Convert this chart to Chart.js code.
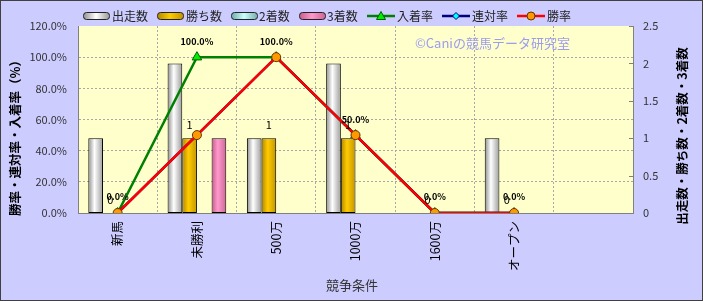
<!DOCTYPE html>
<html><head><meta charset="utf-8">
<script src="https://cdn.jsdelivr.net/npm/chart.js@4"></script>
<style>html,body{margin:0;padding:0;background:#fff}canvas{display:block}</style>
</head><body>
<canvas id="c" width="703" height="301"></canvas>
<script>
// ---- data ----
const categories = ['新馬','未勝利','500万','1000万','1600万','オープン',''];
const starts  = [1,2,1,2,0,1];          // 出走数
const wins    = [0,1,1,1,0,0];          // 勝ち数
const seconds = [0,0,0,0,0,0];          // 2着数
const thirds  = [0,1,0,0,0,0];          // 3着数
const placeRate    = [0,100,100,50,0,0]; // 入着率 (%)
const quinellaRate = [0,50,100,50,0,0];  // 連対率 (%)
const winRate      = [0,50,100,50,0,0];  // 勝率 (%)
const leftTicks  = [0,20,40,60,80,100,120];
const rightTicks = [0,0.5,1,1.5,2,2.5];
const seriesNames = ['出走数','勝ち数','2着数','3着数','入着率','連対率','勝率'];

const JP = "'Noto Sans CJK JP', 'Noto Sans', sans-serif";
const CAT_PCT = 0.74;
const cols = {
  white: ['#8c8c8c','#ffffff','#9c9c9c'],
  gold:  ['#b08400','#ffcc00','#c29400'],
  cyan:  ['#6aa8a8','#ccffff','#78b0b0'],
  pink:  ['#c45a8e','#ff99cc','#cc6699']
};
function barFill(k, c){
  return ctx => {
    const ch = ctx.chart, xs = ch.scales && ch.scales.x;
    if (!xs || ctx.dataIndex == null || !isFinite(xs.width) || xs.width <= 0) return c[1];
    const cw = xs.width / categories.length, bw = cw * CAT_PCT / 4;
    const cx = xs.getPixelForValue(ctx.dataIndex) + (k - 1.5) * bw;
    const g = ch.ctx.createLinearGradient(cx - bw/2, 0, cx + bw/2, 0);
    g.addColorStop(0, c[0]); g.addColorStop(0.42, c[1]); g.addColorStop(1, c[2]);
    return g;
  };
}
function barDs(label, data, k, c){
  return {type:'bar', label, data, yAxisID:'y1', order:10,
    backgroundColor: barFill(k, c), borderColor:'#000',
    borderWidth: ctx => (ctx.raw ? 1 : 0), borderSkipped:false,
    categoryPercentage: CAT_PCT, barPercentage: 1};
}
function lineDs(label, data, color, style, r, bg, bc, order){
  return {type:'line', label, data, yAxisID:'y', order,
    borderColor: color, borderWidth: 2.5, tension: 0,
    pointStyle: style, pointRadius: r, pointHoverRadius: r,
    pointBackgroundColor: bg, pointBorderColor: bc, pointBorderWidth: 1};
}

const legendItems = [
  {t:'bar', c:cols.white, bx:83, tx:112},
  {t:'bar', c:cols.gold, bx:157, tx:186},
  {t:'bar', c:cols.cyan, bx:231, tx:259},
  {t:'bar', c:cols.pink, bx:299, tx:327},
  {t:'line', color:'#008000', style:'triangle', bg:'#00ee00', bc:'#006000', bx:367, tx:397},
  {t:'line', color:'#000080', style:'diamond', bg:'#00ffff', bc:'#000080', bx:442, tx:472},
  {t:'line', color:'#ff0000', style:'circle', bg:'#ff9900', bc:'#663300', bx:517, tx:547}
];

function marker(ctx, style, x, y, bg, bc){
  ctx.save(); ctx.fillStyle = bg; ctx.strokeStyle = bc; ctx.lineWidth = 1; ctx.beginPath();
  if (style === 'triangle') { ctx.moveTo(x, y-4.5); ctx.lineTo(x+4.5, y+3.5); ctx.lineTo(x-4.5, y+3.5); ctx.closePath(); }
  else if (style === 'diamond') { ctx.moveTo(x, y-3.5); ctx.lineTo(x+3.5, y); ctx.lineTo(x, y+3.5); ctx.lineTo(x-3.5, y); ctx.closePath(); }
  else { ctx.arc(x, y, 4, 0, Math.PI*2); }
  ctx.fill(); ctx.stroke(); ctx.restore();
}

const decor = {
  id:'decor',
  beforeDraw(chart){
    const {ctx, chartArea:a} = chart;
    ctx.save();
    ctx.fillStyle = '#ccccff'; ctx.fillRect(0,0,chart.width,chart.height);
    ctx.fillStyle = '#ffffcc'; ctx.fillRect(a.left, a.top, a.right-a.left, a.bottom-a.top);
    ctx.restore();
  },
  beforeDatasetsDraw(chart){
    const ctx = chart.ctx;
    ctx.save();
    ctx.fillStyle = '#9c9cf0'; ctx.font = '13px ' + JP; ctx.textAlign = 'left'; ctx.textBaseline = 'middle';
    ctx.fillText('©Caniの競馬データ研究室', 415, 43);
    ctx.restore();
  },
  afterDatasetsDraw(chart){
    const ctx = chart.ctx;
    ctx.save(); ctx.fillStyle = '#000'; ctx.textAlign = 'center'; ctx.textBaseline = 'middle';
    const mb = chart.getDatasetMeta(1);
    ctx.font = '11px ' + JP;
    mb.data.forEach((el, i) => { if (wins[i] != null) ctx.fillText(String(wins[i]), el.x, el.y - 13); });
    const mp = chart.getDatasetMeta(4);
    ctx.font = 'bold 9px ' + JP;
    mp.data.forEach((el, i) => { if (placeRate[i] != null) ctx.fillText(placeRate[i].toFixed(1) + '%', el.x, el.y - 16); });
    ctx.restore();
  },
  afterDraw(chart){
    const ctx = chart.ctx, a = chart.chartArea;
    ctx.save();
    // right axis small ticks (inside)
    const y1 = chart.scales.y1;
    ctx.strokeStyle = '#808080'; ctx.lineWidth = 1;
    rightTicks.forEach(v => { const y = Math.round(y1.getPixelForValue(v)) + 0.5; ctx.beginPath(); ctx.moveTo(a.right-4, y); ctx.lineTo(a.right, y); ctx.stroke(); });
    // axis titles
    ctx.fillStyle = '#000'; ctx.textAlign = 'center'; ctx.textBaseline = 'middle';
    ctx.font = 'bold 12.5px ' + JP;
    ctx.save(); ctx.translate(15, 135); ctx.rotate(-Math.PI/2); ctx.fillText('勝率・連対率・入着率（%）', 0, 0); ctx.restore();
    ctx.save(); ctx.translate(682, 136); ctx.rotate(-Math.PI/2); ctx.fillText('出走数・勝ち数・2着数・3着数', 0, 0); ctx.restore();
    ctx.fillStyle = '#333'; ctx.font = '13px ' + JP;
    ctx.fillText('競争条件', 352, 285);
    // legend
    ctx.font = '12px ' + JP; ctx.textAlign = 'left';
    legendItems.forEach((it, i) => {
      const cy = 16;
      if (it.t === 'bar') {
        const g = ctx.createLinearGradient(it.bx, 0, it.bx+26, 0);
        g.addColorStop(0, it.c[0]); g.addColorStop(0.5, it.c[1]); g.addColorStop(1, it.c[2]);
        ctx.fillStyle = g; ctx.strokeStyle = '#222'; ctx.lineWidth = 1;
        ctx.beginPath(); ctx.roundRect(it.bx+0.5, cy-3.5, 26, 7, 3); ctx.fill(); ctx.stroke();
      } else {
        ctx.strokeStyle = it.color; ctx.lineWidth = 2.5;
        ctx.beginPath(); ctx.moveTo(it.bx, cy); ctx.lineTo(it.bx+28, cy); ctx.stroke();
        marker(ctx, it.style, it.bx+14, cy, it.bg, it.bc);
      }
      ctx.fillStyle = '#222';
      ctx.fillText(seriesNames[i], it.tx, cy);
    });
    // outer border
    ctx.strokeStyle = '#404040'; ctx.lineWidth = 1;
    ctx.strokeRect(0.5, 0.5, chart.width-1, chart.height-1);
    ctx.restore();
  }
};

new Chart(document.getElementById('c'), {
  data: {
    labels: categories,
    datasets: [
      barDs(seriesNames[0], starts, 0, cols.white),
      barDs(seriesNames[1], wins, 1, cols.gold),
      barDs(seriesNames[2], seconds, 2, cols.cyan),
      barDs(seriesNames[3], thirds, 3, cols.pink),
      lineDs(seriesNames[4], placeRate, '#008000', 'triangle', 5.5, '#00ee00', '#006000', 3),
      lineDs(seriesNames[5], quinellaRate, '#000080', 'rectRot', 4, '#00ffff', '#000080', 2),
      lineDs(seriesNames[6], winRate, '#ff0000', 'circle', 4.5, '#ff9900', '#663300', 1)
    ]
  },
  options: {
    responsive: false, devicePixelRatio: 1, animation: false,
    layout: {padding: {top: 26, left: 0, right: 0, bottom: 0}},
    plugins: {legend: {display: false}, tooltip: {enabled: false}},
    scales: {
      x: {
        type: 'category', offset: true,
        grid: {offset: true, color: '#a8a8a8', drawTicks: false},
        border: {color: '#808080', dash: [2,2]},
        ticks: {minRotation: 90, maxRotation: 90, autoSkip: false, padding: 8, color: '#000',
                font: {family: JP, size: 12.5}},
        afterFit: s => { s.height = 88; }
      },
      y: {
        position: 'left', min: 0, max: 120,
        afterBuildTicks: s => { s.ticks = leftTicks.map(v => ({value: v})); },
        grid: {drawTicks: false, color: c => (c.tick && c.tick.value === 120 ? 'rgba(0,0,0,0)' : '#a8a8a8')},
        border: {color: '#808080', dash: [2,2]},
        ticks: {callback: v => Number(v).toFixed(1) + '%', color: '#333', padding: 11,
                font: {family: JP, size: 11}},
        afterFit: s => { s.width = 78; }
      },
      y1: {
        position: 'right', min: 0, max: 2.5,
        afterBuildTicks: s => { s.ticks = rightTicks.map(v => ({value: v})); },
        grid: {display: false, drawTicks: false, drawOnChartArea: false},
        border: {color: '#808080'},
        ticks: {callback: v => String(v), color: '#333', padding: 10, font: {family: JP, size: 11}},
        afterFit: s => { s.width = 70; }
      }
    }
  },
  plugins: [decor]
});
</script>
</body></html>
